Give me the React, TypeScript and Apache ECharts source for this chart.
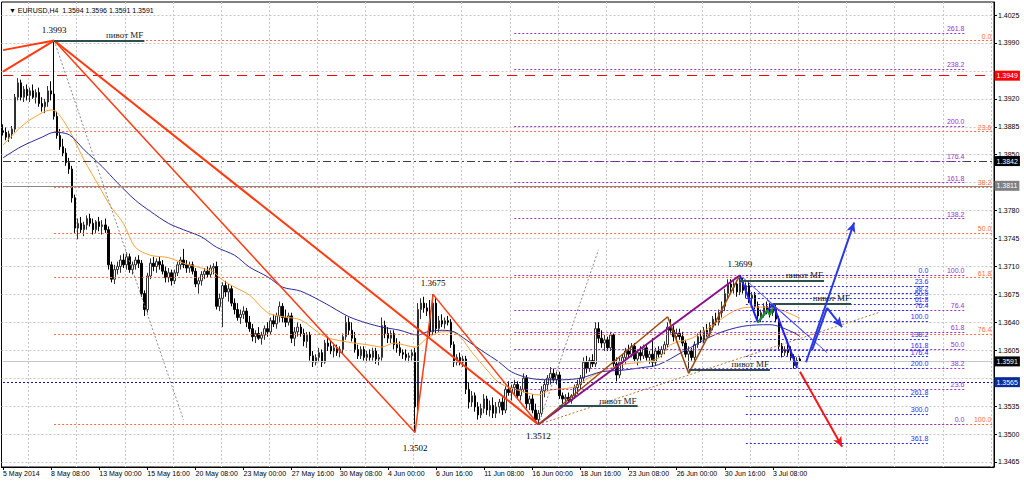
import React, { useEffect, useRef } from 'react';
import * as echarts from 'echarts';

// ---------- DATA ----------
// H4 bars: [open, high, low, close]
const OHLC: number[][] = [
  [1.3880,1.3888,1.3874,1.3878],[1.3878,1.3884,1.3868,1.3872],[1.3872,1.3880,1.3866,1.3876],[1.3876,1.3886,1.3870,1.3882],
  [1.3882,1.3926,1.3878,1.3922],[1.3922,1.3946,1.3918,1.3940],[1.3940,1.3944,1.3918,1.3922],[1.3922,1.3936,1.3916,1.3932],
  [1.3932,1.3938,1.3918,1.3924],[1.3924,1.3934,1.3916,1.3930],[1.3930,1.3938,1.3920,1.3922],[1.3922,1.3932,1.3914,1.3928],
  [1.3928,1.3934,1.3910,1.3914],[1.3914,1.3922,1.3904,1.3910],[1.3910,1.3920,1.3902,1.3916],[1.3916,1.3936,1.3910,1.3930],
  [1.3930,1.3942,1.3918,1.3926],[1.3926,1.3993,1.3894,1.3898],[1.3898,1.3904,1.3870,1.3874],[1.3874,1.3882,1.3856,1.3860],
  [1.3860,1.3870,1.3848,1.3852],[1.3852,1.3858,1.3836,1.3840],[1.3840,1.3846,1.3826,1.3832],[1.3832,1.3836,1.3790,1.3796],
  [1.3796,1.3800,1.3752,1.3758],[1.3758,1.3770,1.3744,1.3764],[1.3764,1.3772,1.3752,1.3756],[1.3756,1.3766,1.3748,1.3762],
  [1.3762,1.3774,1.3756,1.3770],[1.3770,1.3776,1.3760,1.3764],[1.3764,1.3770,1.3750,1.3756],[1.3756,1.3768,1.3752,1.3766],
  [1.3766,1.3772,1.3754,1.3760],[1.3760,1.3768,1.3750,1.3762],[1.3762,1.3770,1.3752,1.3756],[1.3756,1.3760,1.3706,1.3712],
  [1.3712,1.3716,1.3690,1.3694],[1.3694,1.3712,1.3688,1.3706],[1.3706,1.3716,1.3700,1.3710],[1.3710,1.3724,1.3702,1.3718],
  [1.3718,1.3726,1.3708,1.3712],[1.3712,1.3728,1.3706,1.3722],[1.3722,1.3726,1.3702,1.3706],[1.3706,1.3716,1.3700,1.3712],
  [1.3712,1.3722,1.3706,1.3718],[1.3718,1.3724,1.3708,1.3714],[1.3714,1.3718,1.3672,1.3676],[1.3676,1.3680,1.3648,1.3656],
  [1.3656,1.3702,1.3652,1.3698],[1.3698,1.3720,1.3694,1.3714],[1.3714,1.3722,1.3704,1.3710],[1.3710,1.3720,1.3702,1.3716],
  [1.3716,1.3722,1.3706,1.3712],[1.3712,1.3718,1.3700,1.3704],[1.3704,1.3710,1.3690,1.3696],[1.3696,1.3708,1.3690,1.3702],
  [1.3702,1.3706,1.3686,1.3692],[1.3692,1.3706,1.3688,1.3702],[1.3702,1.3716,1.3698,1.3712],[1.3712,1.3722,1.3706,1.3718],
  [1.3718,1.3732,1.3708,1.3712],[1.3712,1.3718,1.3702,1.3708],[1.3708,1.3716,1.3702,1.3712],[1.3712,1.3716,1.3700,1.3704],
  [1.3704,1.3708,1.3684,1.3688],[1.3688,1.3696,1.3676,1.3692],[1.3692,1.3704,1.3686,1.3700],[1.3700,1.3708,1.3694,1.3704],
  [1.3704,1.3710,1.3696,1.3700],[1.3700,1.3712,1.3696,1.3708],[1.3708,1.3714,1.3700,1.3710],[1.3710,1.3716,1.3656,1.3660],
  [1.3660,1.3676,1.3654,1.3670],[1.3670,1.3690,1.3634,1.3686],[1.3686,1.3692,1.3672,1.3678],[1.3678,1.3688,1.3666,1.3682],
  [1.3682,1.3686,1.3660,1.3664],[1.3664,1.3670,1.3650,1.3656],[1.3656,1.3664,1.3642,1.3646],[1.3646,1.3656,1.3638,1.3650],
  [1.3650,1.3660,1.3644,1.3654],[1.3654,1.3658,1.3634,1.3640],[1.3640,1.3648,1.3628,1.3632],[1.3632,1.3638,1.3616,1.3622],
  [1.3622,1.3630,1.3614,1.3626],[1.3626,1.3634,1.3618,1.3620],[1.3620,1.3628,1.3612,1.3624],[1.3624,1.3636,1.3618,1.3632],
  [1.3632,1.3640,1.3622,1.3628],[1.3628,1.3646,1.3624,1.3642],[1.3642,1.3650,1.3634,1.3638],[1.3638,1.3652,1.3632,1.3648],
  [1.3648,1.3666,1.3640,1.3660],[1.3660,1.3664,1.3640,1.3646],[1.3646,1.3656,1.3634,1.3640],[1.3640,1.3652,1.3636,1.3648],
  [1.3648,1.3652,1.3614,1.3620],[1.3620,1.3634,1.3610,1.3628],[1.3628,1.3640,1.3622,1.3634],[1.3634,1.3638,1.3622,1.3626],
  [1.3626,1.3632,1.3610,1.3616],[1.3616,1.3628,1.3608,1.3624],[1.3624,1.3628,1.3592,1.3598],[1.3598,1.3604,1.3584,1.3590],
  [1.3590,1.3600,1.3586,1.3596],[1.3596,1.3608,1.3590,1.3602],[1.3602,1.3606,1.3584,1.3590],[1.3590,1.3618,1.3588,1.3614],
  [1.3614,1.3622,1.3604,1.3610],[1.3610,1.3618,1.3600,1.3604],[1.3604,1.3612,1.3596,1.3608],[1.3608,1.3612,1.3598,1.3602],
  [1.3602,1.3610,1.3596,1.3606],[1.3606,1.3626,1.3600,1.3622],[1.3622,1.3648,1.3618,1.3640],[1.3640,1.3646,1.3624,1.3630],
  [1.3630,1.3640,1.3616,1.3620],[1.3620,1.3628,1.3602,1.3606],[1.3606,1.3612,1.3594,1.3598],[1.3598,1.3610,1.3594,1.3606],
  [1.3606,1.3610,1.3592,1.3596],[1.3596,1.3604,1.3590,1.3600],[1.3600,1.3606,1.3592,1.3596],[1.3596,1.3608,1.3592,1.3604],
  [1.3604,1.3608,1.3588,1.3594],[1.3594,1.3600,1.3586,1.3596],[1.3596,1.3646,1.3592,1.3636],[1.3636,1.3642,1.3620,1.3626],
  [1.3626,1.3634,1.3614,1.3620],[1.3620,1.3630,1.3614,1.3626],[1.3626,1.3630,1.3606,1.3612],[1.3612,1.3620,1.3602,1.3608],
  [1.3608,1.3616,1.3598,1.3602],[1.3602,1.3606,1.3594,1.3600],[1.3600,1.3606,1.3592,1.3596],[1.3596,1.3602,1.3590,1.3598],
  [1.3598,1.3606,1.3592,1.3602],[1.3602,1.3608,1.3502,1.3534],[1.3534,1.3664,1.3526,1.3656],[1.3656,1.3670,1.3644,1.3664],
  [1.3664,1.3672,1.3652,1.3658],[1.3658,1.3664,1.3648,1.3654],[1.3654,1.3668,1.3622,1.3628],[1.3628,1.3675,1.3624,1.3664],
  [1.3664,1.3670,1.3626,1.3632],[1.3632,1.3648,1.3628,1.3642],[1.3642,1.3650,1.3634,1.3638],[1.3638,1.3646,1.3632,1.3642],
  [1.3642,1.3648,1.3636,1.3640],[1.3640,1.3644,1.3608,1.3612],[1.3612,1.3616,1.3584,1.3590],[1.3590,1.3600,1.3586,1.3596],
  [1.3596,1.3602,1.3586,1.3590],[1.3590,1.3598,1.3584,1.3594],[1.3594,1.3598,1.3550,1.3556],[1.3556,1.3564,1.3532,1.3540],
  [1.3540,1.3554,1.3534,1.3548],[1.3548,1.3552,1.3528,1.3534],[1.3534,1.3540,1.3518,1.3524],[1.3524,1.3538,1.3520,1.3532],
  [1.3532,1.3550,1.3526,1.3544],[1.3544,1.3548,1.3524,1.3530],[1.3530,1.3542,1.3522,1.3536],[1.3536,1.3546,1.3520,1.3526],
  [1.3526,1.3540,1.3520,1.3534],[1.3534,1.3544,1.3526,1.3540],[1.3540,1.3546,1.3524,1.3530],[1.3530,1.3560,1.3526,1.3556],
  [1.3556,1.3566,1.3548,1.3552],[1.3552,1.3562,1.3542,1.3558],[1.3558,1.3568,1.3550,1.3562],[1.3562,1.3566,1.3544,1.3548],
  [1.3548,1.3560,1.3542,1.3556],[1.3556,1.3576,1.3552,1.3570],[1.3570,1.3574,1.3532,1.3538],[1.3538,1.3548,1.3530,1.3544],
  [1.3544,1.3550,1.3526,1.3530],[1.3530,1.3538,1.3514,1.3518],[1.3518,1.3530,1.3512,1.3526],[1.3526,1.3560,1.3522,1.3554],
  [1.3554,1.3568,1.3546,1.3562],[1.3562,1.3574,1.3554,1.3570],[1.3570,1.3584,1.3562,1.3576],[1.3576,1.3582,1.3564,1.3568],
  [1.3568,1.3578,1.3562,1.3574],[1.3574,1.3578,1.3544,1.3548],[1.3548,1.3552,1.3538,1.3544],[1.3544,1.3550,1.3538,1.3546],
  [1.3546,1.3552,1.3540,1.3542],[1.3542,1.3550,1.3538,1.3548],[1.3548,1.3562,1.3544,1.3558],[1.3558,1.3568,1.3550,1.3562],
  [1.3562,1.3574,1.3556,1.3570],[1.3570,1.3596,1.3566,1.3590],[1.3590,1.3598,1.3576,1.3582],[1.3582,1.3596,1.3578,1.3592],
  [1.3592,1.3600,1.3584,1.3588],[1.3588,1.3640,1.3584,1.3632],[1.3632,1.3640,1.3614,1.3620],[1.3620,1.3630,1.3608,1.3614],
  [1.3614,1.3624,1.3604,1.3618],[1.3618,1.3622,1.3604,1.3608],[1.3608,1.3628,1.3604,1.3624],[1.3624,1.3626,1.3584,1.3588],
  [1.3588,1.3596,1.3566,1.3574],[1.3574,1.3596,1.3570,1.3590],[1.3590,1.3600,1.3580,1.3596],[1.3596,1.3608,1.3588,1.3604],
  [1.3604,1.3612,1.3596,1.3600],[1.3600,1.3614,1.3596,1.3610],[1.3610,1.3614,1.3590,1.3594],[1.3594,1.3606,1.3586,1.3602],
  [1.3602,1.3610,1.3592,1.3598],[1.3598,1.3612,1.3594,1.3608],[1.3608,1.3612,1.3592,1.3596],[1.3596,1.3604,1.3588,1.3600],
  [1.3600,1.3620,1.3584,1.3590],[1.3590,1.3608,1.3586,1.3604],[1.3604,1.3610,1.3596,1.3600],[1.3600,1.3610,1.3596,1.3606],
  [1.3606,1.3616,1.3600,1.3612],[1.3612,1.3640,1.3608,1.3634],[1.3634,1.3644,1.3626,1.3630],[1.3630,1.3636,1.3616,1.3622],
  [1.3622,1.3632,1.3614,1.3626],[1.3626,1.3632,1.3618,1.3622],[1.3622,1.3628,1.3610,1.3614],[1.3614,1.3618,1.3596,1.3600],
  [1.3600,1.3610,1.3582,1.3604],[1.3604,1.3608,1.3592,1.3596],[1.3596,1.3616,1.3592,1.3612],[1.3612,1.3626,1.3608,1.3622],
  [1.3622,1.3630,1.3614,1.3618],[1.3618,1.3634,1.3614,1.3630],[1.3630,1.3638,1.3622,1.3626],[1.3626,1.3640,1.3622,1.3636],
  [1.3636,1.3648,1.3630,1.3644],[1.3644,1.3652,1.3636,1.3640],[1.3640,1.3656,1.3636,1.3652],[1.3652,1.3666,1.3646,1.3660],
  [1.3660,1.3682,1.3654,1.3676],[1.3676,1.3694,1.3670,1.3688],[1.3688,1.3694,1.3678,1.3684],[1.3684,1.3692,1.3676,1.3688],
  [1.3688,1.3692,1.3672,1.3678],[1.3678,1.3699,1.3674,1.3690],[1.3690,1.3696,1.3676,1.3680],[1.3680,1.3690,1.3670,1.3686],
  [1.3686,1.3690,1.3664,1.3670],[1.3670,1.3678,1.3660,1.3674],[1.3674,1.3678,1.3656,1.3660],[1.3660,1.3666,1.3644,1.3648],
  [1.3648,1.3656,1.3640,1.3652],[1.3652,1.3664,1.3646,1.3660],[1.3660,1.3666,1.3650,1.3656],[1.3656,1.3664,1.3646,1.3652],
  [1.3652,1.3662,1.3648,1.3658],[1.3658,1.3664,1.3640,1.3644],[1.3644,1.3648,1.3604,1.3610],[1.3610,1.3614,1.3596,1.3602],
  [1.3602,1.3610,1.3598,1.3606],[1.3606,1.3612,1.3598,1.3602],[1.3602,1.3610,1.3592,1.3596],[1.3596,1.3600,1.3582,1.3586],
  [1.3586,1.3596,1.3584,1.3592],[1.3594,1.3596,1.3591,1.3591],
];

// Moving averages: [bar index, price]
const MA_FAST: number[][] = [
  [0,1.3862],[6,1.3885],[10,1.3896],[16,1.3906],[18,1.3903],[22,1.3881],[27,1.3843],[32,1.3810],[36,1.3784],
  [40,1.3764],[44,1.3734],[49,1.3724],[55,1.3721],[60,1.3714],[66,1.3708],[70,1.3703],[73,1.3693],[77,1.3684],
  [82,1.3674],[88,1.3652],[93,1.3647],[99,1.3643],[107,1.3622],[115,1.3615],[121,1.3612],[126,1.3609],[130,1.3614],
  [137,1.3609],[141,1.3620],[146,1.3628],[149,1.3628],[152,1.3622],[156,1.3602],[161,1.3580],[165,1.3564],[173,1.3553],
  [178,1.3549],[182,1.3555],[190,1.3559],[195,1.3571],[200,1.3580],[206,1.3587],[212,1.3590],[218,1.3595],[222,1.3612],
  [229,1.3620],[235,1.3634],[242,1.3652],[246,1.3658],[250,1.3659],[254,1.3659],[259,1.3655],[265,1.3645],
];
const MA_SLOW: number[][] = [
  [0,1.3846],[6,1.3860],[13,1.3872],[17,1.3878],[22,1.3875],[27,1.3856],[33,1.3835],[38,1.3815],[44,1.3793],
  [49,1.3779],[55,1.3764],[60,1.3756],[66,1.3747],[71,1.3734],[77,1.3724],[82,1.3709],[88,1.3697],[93,1.3684],
  [99,1.3679],[107,1.3664],[115,1.3647],[121,1.3639],[126,1.3634],[132,1.3630],[138,1.3624],[141,1.3628],[146,1.3630],
  [150,1.3628],[154,1.3618],[159,1.3605],[165,1.3590],[169,1.3578],[175,1.3570],[181,1.3568],[186,1.3568],[192,1.3570],
  [199,1.3578],[206,1.3580],[212,1.3583],[218,1.3587],[226,1.3603],[237,1.3625],[246,1.3635],[255,1.3637],[263,1.3627],[265,1.3622],
];

// Price-scale ticks; the labels hidden behind the price tags are left out of the label list
const Y_TICKS = [1.3465,1.3500,1.3535,1.3570,1.3605,1.3640,1.3675,1.3710,1.3745,1.3780,1.3815,1.3850,1.3885,1.3920,1.3955,1.3990,1.4025];
const Y_TICK_LABELS = [1.3465,1.3500,1.3535,1.3605,1.3640,1.3675,1.3710,1.3745,1.3780,1.3850,1.3885,1.3920,1.3990,1.4025];
const Y_MIN = 1.34587;
const Y_MAX = 1.40413;
const N_CATS = 330;
const FIRST_BAR_UTC = Date.UTC(2014, 4, 5, 16);
const FIRST_LABEL = '5 May 2014';
const MONTHS = ['Jan','Feb','Mar','Apr','May','Jun','Jul','Aug','Sep','Oct','Nov','Dec'];
const HEADER = '\u25BC EURUSD,H4  1.3594 1.3596 1.3591 1.3591';

// Fibonacci levels [label, price] and their bar span
const FIB_ORANGE: [string, number][] = [['0.0',1.3993],['23.6',1.3879],['38.2',1.3809],['50.0',1.3752],['61.8',1.3696],['76.4',1.3625],['100.0',1.3512]];
const FIB_ORANGE_SPAN = [17, 329];
const FIB_PURPLE: [string, number][] = [['261.8',1.4002],['238.2',1.3957],['200.0',1.3886],['176.4',1.3842],['161.8',1.3815],['138.2',1.3770],['100.0',1.3699],['76.4',1.3655],['61.8',1.3628],['50.0',1.3606],['38.2',1.3583],['23.6',1.3556],['0.0',1.3512]];
const FIB_PURPLE_SPAN = [170, 320];
const FIB_BLUE: [string, number][] = [['0.0',1.3699],['23.6',1.3685],['38.2',1.3677],['50.0',1.3670],['61.8',1.3663],['76.4',1.3655],['100.0',1.3641],['138.2',1.3619],['161.8',1.3605],['176.4',1.3597],['200.0',1.3583],['261.8',1.3547],['300.0',1.3525],['361.8',1.3489]];
const FIB_BLUE_SPAN = [247, 308];

// Horizontal price levels with right-hand tags
const TAG_LEVELS = [1.3949, 1.3842, 1.3811, 1.3591, 1.3565];

// Trend lines (bar index, price)
const RED_THICK: number[][][] = [
  [[0,1.3981],[17,1.3993]], [[0,1.3954],[17,1.3993]], [[17,1.3993],[178,1.3512]],
];
const RED_THIN: number[][][] = [
  [[17,1.3993],[137,1.3502]], [[137,1.3502],[143,1.3675]], [[143,1.3675],[178,1.3512]],
];
const GRAY_DOTTED: number[][][] = [[[17,1.3993],[60,1.3518]], [[178,1.3512],[198,1.3731]]];
const BROWN_DOTTED: number[][][] = [[[178,1.3512],[291,1.3652]]];
const PURPLE_LINE: number[][][] = [[[178,1.3512],[245,1.3699]]];
const BROWN_ZIGZAG: number[][] = [[178,1.3512],[221,1.3647],[228,1.3576],[245,1.3699]];
const BLUE_ZIGZAG: number[][] = [[245,1.3699],[251,1.3640],[256,1.3663],[264,1.3583]];
const GREEN_ZIGZAG: number[][] = [[251,1.3640],[254,1.3655],[255,1.3649],[256,1.3659]];
const BLUE_THIN: number[][][] = [[[246,1.3696],[274,1.3602]], [[254,1.3668],[268,1.3622]]];
const BLUE_ARROW_LONG: number[][] = [[267,1.3590],[283,1.3765]];
const BLUE_ARROW_ZIG: number[][] = [[269,1.3605],[274,1.3658],[279,1.3634]];
const RED_ARROW: number[][] = [[265,1.3578],[279,1.3484]];
const PIVOTS: number[][][] = [
  [[17,1.3993],[47,1.3993]], [[245,1.3692],[273,1.3692]], [[256,1.3663],[282,1.3663]],
  [[228,1.3581],[255,1.3581]], [[185,1.3535],[211,1.3535]],
];
const PIVOT_TEXT = 'пивот MF';
const PRICE_NOTES: { text: string; at: number[]; below: boolean }[] = [
  { text: '1.3993', at: [17, 1.3993], below: false },
  { text: '1.3675', at: [143, 1.3675], below: false },
  { text: '1.3502', at: [137, 1.3502], below: true },
  { text: '1.3512', at: [178, 1.3512], below: true },
  { text: '1.3699', at: [245, 1.3699], below: false },
];

// ---------- HELPERS ----------
function buildCategories(): string[] {
  const out: string[] = [];
  let t = FIRST_BAR_UTC;
  while (out.length < N_CATS) {
    const d = new Date(t);
    const wd = d.getUTCDay();
    if (wd >= 1 && wd <= 5) {
      const hh = String(d.getUTCHours()).padStart(2, '0');
      out.push(`${d.getUTCDate()} ${MONTHS[d.getUTCMonth()]} ${hh}:00`);
    }
    t += 4 * 3600 * 1000;
  }
  return out;
}

const SANS = '"Liberation Sans", Arial, sans-serif';
const SERIF = '"Liberation Serif", "Times New Roman", serif';

function segs(list: number[][][], lineStyle: any) {
  return list.map(([a, b]) => [{ coord: a, lineStyle }, { coord: b }]);
}
function chain(points: number[][], lineStyle: any, arrowEnd = false, arrowColor?: string) {
  const out: any[] = [];
  for (let i = 0; i < points.length - 1; i++) {
    const last = i === points.length - 2;
    out.push([
      { coord: points[i], lineStyle },
      last && arrowEnd
        ? { coord: points[i + 1], symbol: 'arrow', symbolSize: [7, 10], itemStyle: { color: arrowColor } }
        : { coord: points[i + 1] },
    ]);
  }
  return out;
}
function fibs(levels: [string, number][], span: number[], color: string) {
  return levels.map(([label, price]) => [
    { coord: [span[0], price], lineStyle: { color, type: [2, 2], width: 1 } },
    {
      coord: [span[1], price],
      label: { show: true, position: 'insideEndTop', formatter: label, color, fontSize: 7, fontFamily: SANS, distance: 1 },
    },
  ]);
}
function overlay(name: string, data: any[], z = 5) {
  return {
    type: 'line',
    name,
    data: [],
    silent: true,
    z,
    markLine: {
      silent: true,
      animation: false,
      precision: 6,
      symbol: ['none', 'none'],
      label: { show: false },
      emphasis: { disabled: true },
      data,
    },
  };
}

export default function App() {
  const ref = useRef<HTMLDivElement>(null);

  useEffect(() => {
    if (!ref.current) return;
    const chart = echarts.init(ref.current, undefined, { renderer: 'svg' });
    const cats = buildCategories();
    const nBars = OHLC.length;
    const candleData = OHLC.map(([o, h, l, c]) => [o, c, l, h]);

    const tagStyles = [
      { line: { color: '#FF0000', type: [10, 8], width: 1 }, bg: '#FF0000' },
      { line: { color: '#404040', type: [8, 3, 2, 3], width: 1 }, bg: '#000000' },
      { line: { color: '#8A8A8A', type: 'solid', width: 1 }, bg: '#808080' },
      { line: { color: '#C8C8C8', type: 'solid', width: 1 }, bg: '#000000' },
      { line: { color: '#1010C0', type: [2, 2], width: 1 }, bg: '#0A2A9A' },
    ];
    const tagData = TAG_LEVELS.map((v, i) => [
      { coord: [0, v], lineStyle: tagStyles[i].line },
      {
        coord: [N_CATS - 1, v],
        label: {
          show: true,
          position: 'end',
          distance: 2,
          formatter: v.toFixed(4),
          color: '#ffffff',
          backgroundColor: tagStyles[i].bg,
          padding: [2, 2, 1, 2],
          fontSize: 7,
          fontFamily: SANS,
        },
      },
    ]);

    const pivotStyle = { color: '#2F4F4F', width: 2, type: 'solid' };
    const pivotData = PIVOTS.map(([a, b]) => [
      { coord: a, lineStyle: pivotStyle },
      {
        coord: b,
        label: { show: true, position: 'insideEndTop', formatter: PIVOT_TEXT, color: '#1a1a1a', fontSize: 9, fontFamily: SERIF, distance: 1 },
      },
    ]);

    const option: any = {
      animation: false,
      backgroundColor: '#ffffff',
      title: {
        text: HEADER,
        left: 4,
        top: 2,
        textStyle: { fontSize: 7, fontWeight: 'normal', color: '#000', fontFamily: SANS },
      },
      grid: {
        left: 1,
        right: 30,
        top: 2,
        bottom: 15,
        show: true,
        borderColor: '#000',
        borderWidth: 1,
        backgroundColor: '#fff',
      },
      xAxis: {
        type: 'category',
        data: cats,
        boundaryGap: true,
        axisLine: { show: true, lineStyle: { color: '#000' } },
        axisTick: {
          show: true,
          alignWithLabel: true,
          length: 3,
          interval: (i: number) => i % 16 === 0 && i < nBars,
          lineStyle: { color: '#000' },
        },
        axisLabel: {
          interval: (i: number) => i % 16 === 0 && i < nBars,
          formatter: (v: string, i: number) => (i === 0 ? FIRST_LABEL : v),
          align: 'left',
          margin: 3,
          fontSize: 7,
          color: '#000',
          fontFamily: SANS,
        },
        splitLine: {
          show: true,
          interval: (i: number) => i % 16 === 9,
          lineStyle: { color: '#C8C8C8', type: [2, 2], width: 1 },
        },
      },
      yAxis: {
        type: 'value',
        position: 'right',
        min: Y_MIN,
        max: Y_MAX,
        scale: true,
        axisLine: { show: true, lineStyle: { color: '#000' } },
        axisTick: { show: true, length: 3, customValues: Y_TICKS, lineStyle: { color: '#000' } },
        axisLabel: {
          customValues: Y_TICK_LABELS,
          formatter: (v: number) => v.toFixed(4),
          fontSize: 7,
          color: '#000',
          margin: 4,
          fontFamily: SANS,
        },
        splitLine: { show: true, lineStyle: { color: '#C8C8C8', type: [2, 2], width: 1 } },
      },
      series: [
        {
          type: 'candlestick',
          name: 'EURUSD',
          data: candleData,
          barWidth: 2,
          z: 2,
          itemStyle: {
            color: '#ffffff',
            color0: '#000000',
            borderColor: '#303030',
            borderColor0: '#000000',
            borderWidth: 1,
          },
          markPoint: {
            silent: true,
            symbol: 'circle',
            symbolSize: 1,
            itemStyle: { color: 'rgba(0,0,0,0)' },
            data: PRICE_NOTES.map((n) => ({
              coord: n.at,
              label: {
                show: true,
                position: n.below ? 'bottom' : 'top',
                distance: n.text === '1.3502' ? 11 : n.below ? 7 : 6,
                formatter: n.text,
                color: '#000',
                fontSize: 9,
                fontFamily: SERIF,
              },
            })),
          },
        },
        {
          type: 'line',
          name: 'MA fast',
          data: MA_FAST,
          smooth: 0.3,
          symbol: 'none',
          silent: true,
          z: 3,
          lineStyle: { color: '#FFA033', width: 1 },
        },
        {
          type: 'line',
          name: 'MA slow',
          data: MA_SLOW,
          smooth: 0.3,
          symbol: 'none',
          silent: true,
          z: 3,
          lineStyle: { color: '#2A2A9A', width: 1 },
        },
        overlay('levels', tagData, 4),
        overlay('fibOrange', fibs(FIB_ORANGE, FIB_ORANGE_SPAN, '#FF6A3A'), 4),
        overlay('fibPurple', fibs(FIB_PURPLE, FIB_PURPLE_SPAN, '#9A32CD'), 4),
        overlay('fibBlue', fibs(FIB_BLUE, FIB_BLUE_SPAN, '#2B2BF0'), 4),
        overlay('dotted', [
          ...segs(GRAY_DOTTED, { color: '#8A8A8A', type: [2, 2], width: 1 }),
          ...segs(BROWN_DOTTED, { color: '#B8783C', type: [2, 2], width: 1 }),
        ], 5),
        overlay('red', [
          ...segs(RED_THICK, { color: '#FF3B10', width: 2, type: 'solid' }),
          ...segs(RED_THIN, { color: '#FF3B10', width: 1.5, type: 'solid' }),
        ], 6),
        overlay('waves', [
          ...segs(PURPLE_LINE, { color: '#8B108B', width: 2, type: 'solid' }),
          ...chain(BROWN_ZIGZAG, { color: '#9A4A10', width: 1.5, type: 'solid' }),
          ...chain(BLUE_ZIGZAG, { color: '#1E1EFF', width: 2, type: 'solid' }),
          ...chain(GREEN_ZIGZAG, { color: '#1A9A1A', width: 2, type: 'solid' }),
          ...segs(BLUE_THIN, { color: '#4A4AFF', width: 1, type: 'solid' }),
        ], 6),
        overlay('pivots', pivotData, 6),
        overlay('arrows', [
          ...chain(BLUE_ARROW_LONG, { color: '#2A3AE0', width: 2, type: 'solid' }, true, '#2A3AE0'),
          ...chain(BLUE_ARROW_ZIG, { color: '#2A3AE0', width: 2, type: 'solid' }, true, '#2A3AE0'),
          ...chain(RED_ARROW, { color: '#F01818', width: 2, type: 'solid' }, true, '#F01818'),
        ], 7),
      ],
    };

    chart.setOption(option);
    return () => chart.dispose();
  }, []);

  return (
    <div style={{ position: 'fixed', left: 0, top: 0, width: 1024, height: 482, background: '#fff' }}>
      <div ref={ref} style={{ width: 1024, height: 482 }} />
    </div>
  );
}
